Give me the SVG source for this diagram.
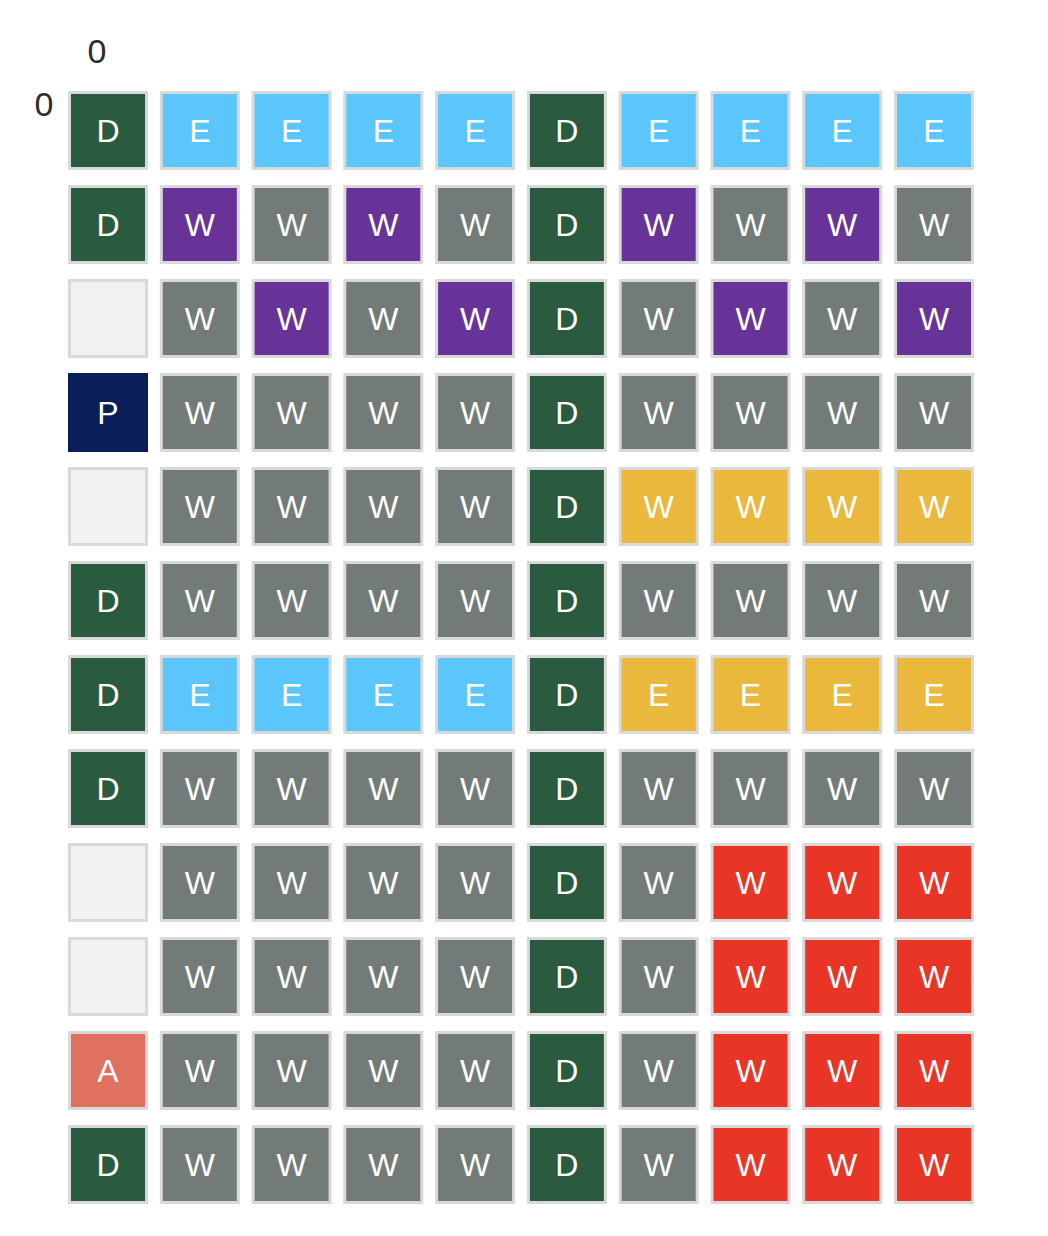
<svg xmlns="http://www.w3.org/2000/svg" width="1048" height="1236" viewBox="0 0 1048 1236">
<style>
rect.c{stroke:#d9d9d9;stroke-width:3;width:77px;height:76px}
text{font-family:"Liberation Sans",Arial,sans-serif;text-anchor:middle}
text.t{font-size:32px;fill:#ffffff}
text.l{font-size:34px;fill:#2b2b33}
.D{fill:#2a5b41}.E{fill:#5bc6fb}.P{fill:#673399}.G{fill:#737b79}.N{fill:#0a1e5a}.X{fill:#f0f1f0}.Y{fill:#eab83d}.R{fill:#e83526}.A{fill:#e07160}
</style>
<g id="labels">
<text class="l" x="97" y="63">0</text>
<text class="l" x="44" y="116">0</text>
</g>
<g id="connectors"></g>
<g id="grid">
<g id="r0" transform="translate(0,91)">
<g id="n0-0" transform="translate(68,0)"><rect class="c D" x="1.5" y="1.5" width="77" height="76"/><text class="t" x="40" y="51">D</text></g>
<g id="n0-1" transform="translate(159.8,0)"><rect class="c E" x="1.5" y="1.5" width="77" height="76"/><text class="t" x="40" y="51">E</text></g>
<g id="n0-2" transform="translate(251.6,0)"><rect class="c E" x="1.5" y="1.5" width="77" height="76"/><text class="t" x="40" y="51">E</text></g>
<g id="n0-3" transform="translate(343.3,0)"><rect class="c E" x="1.5" y="1.5" width="77" height="76"/><text class="t" x="40" y="51">E</text></g>
<g id="n0-4" transform="translate(435.1,0)"><rect class="c E" x="1.5" y="1.5" width="77" height="76"/><text class="t" x="40" y="51">E</text></g>
<g id="n0-5" transform="translate(526.9,0)"><rect class="c D" x="1.5" y="1.5" width="77" height="76"/><text class="t" x="40" y="51">D</text></g>
<g id="n0-6" transform="translate(618.7,0)"><rect class="c E" x="1.5" y="1.5" width="77" height="76"/><text class="t" x="40" y="51">E</text></g>
<g id="n0-7" transform="translate(710.5,0)"><rect class="c E" x="1.5" y="1.5" width="77" height="76"/><text class="t" x="40" y="51">E</text></g>
<g id="n0-8" transform="translate(802.2,0)"><rect class="c E" x="1.5" y="1.5" width="77" height="76"/><text class="t" x="40" y="51">E</text></g>
<g id="n0-9" transform="translate(894,0)"><rect class="c E" x="1.5" y="1.5" width="77" height="76"/><text class="t" x="40" y="51">E</text></g>
</g>
<g id="r1" transform="translate(0,185)">
<g id="n1-0" transform="translate(68,0)"><rect class="c D" x="1.5" y="1.5" width="77" height="76"/><text class="t" x="40" y="51">D</text></g>
<g id="n1-1" transform="translate(159.8,0)"><rect class="c P" x="1.5" y="1.5" width="77" height="76"/><text class="t" x="40" y="51">W</text></g>
<g id="n1-2" transform="translate(251.6,0)"><rect class="c G" x="1.5" y="1.5" width="77" height="76"/><text class="t" x="40" y="51">W</text></g>
<g id="n1-3" transform="translate(343.3,0)"><rect class="c P" x="1.5" y="1.5" width="77" height="76"/><text class="t" x="40" y="51">W</text></g>
<g id="n1-4" transform="translate(435.1,0)"><rect class="c G" x="1.5" y="1.5" width="77" height="76"/><text class="t" x="40" y="51">W</text></g>
<g id="n1-5" transform="translate(526.9,0)"><rect class="c D" x="1.5" y="1.5" width="77" height="76"/><text class="t" x="40" y="51">D</text></g>
<g id="n1-6" transform="translate(618.7,0)"><rect class="c P" x="1.5" y="1.5" width="77" height="76"/><text class="t" x="40" y="51">W</text></g>
<g id="n1-7" transform="translate(710.5,0)"><rect class="c G" x="1.5" y="1.5" width="77" height="76"/><text class="t" x="40" y="51">W</text></g>
<g id="n1-8" transform="translate(802.2,0)"><rect class="c P" x="1.5" y="1.5" width="77" height="76"/><text class="t" x="40" y="51">W</text></g>
<g id="n1-9" transform="translate(894,0)"><rect class="c G" x="1.5" y="1.5" width="77" height="76"/><text class="t" x="40" y="51">W</text></g>
</g>
<g id="r2" transform="translate(0,279)">
<g id="n2-0" transform="translate(68,0)"><rect class="c X" x="1.5" y="1.5" width="77" height="76"/></g>
<g id="n2-1" transform="translate(159.8,0)"><rect class="c G" x="1.5" y="1.5" width="77" height="76"/><text class="t" x="40" y="51">W</text></g>
<g id="n2-2" transform="translate(251.6,0)"><rect class="c P" x="1.5" y="1.5" width="77" height="76"/><text class="t" x="40" y="51">W</text></g>
<g id="n2-3" transform="translate(343.3,0)"><rect class="c G" x="1.5" y="1.5" width="77" height="76"/><text class="t" x="40" y="51">W</text></g>
<g id="n2-4" transform="translate(435.1,0)"><rect class="c P" x="1.5" y="1.5" width="77" height="76"/><text class="t" x="40" y="51">W</text></g>
<g id="n2-5" transform="translate(526.9,0)"><rect class="c D" x="1.5" y="1.5" width="77" height="76"/><text class="t" x="40" y="51">D</text></g>
<g id="n2-6" transform="translate(618.7,0)"><rect class="c G" x="1.5" y="1.5" width="77" height="76"/><text class="t" x="40" y="51">W</text></g>
<g id="n2-7" transform="translate(710.5,0)"><rect class="c P" x="1.5" y="1.5" width="77" height="76"/><text class="t" x="40" y="51">W</text></g>
<g id="n2-8" transform="translate(802.2,0)"><rect class="c G" x="1.5" y="1.5" width="77" height="76"/><text class="t" x="40" y="51">W</text></g>
<g id="n2-9" transform="translate(894,0)"><rect class="c P" x="1.5" y="1.5" width="77" height="76"/><text class="t" x="40" y="51">W</text></g>
</g>
<g id="r3" transform="translate(0,373)">
<g id="n3-0" transform="translate(68,0)"><rect class="c N" x="1.5" y="1.5" width="77" height="76" style="stroke:#0a1e5a"/><text class="t" x="40" y="51">P</text></g>
<g id="n3-1" transform="translate(159.8,0)"><rect class="c G" x="1.5" y="1.5" width="77" height="76"/><text class="t" x="40" y="51">W</text></g>
<g id="n3-2" transform="translate(251.6,0)"><rect class="c G" x="1.5" y="1.5" width="77" height="76"/><text class="t" x="40" y="51">W</text></g>
<g id="n3-3" transform="translate(343.3,0)"><rect class="c G" x="1.5" y="1.5" width="77" height="76"/><text class="t" x="40" y="51">W</text></g>
<g id="n3-4" transform="translate(435.1,0)"><rect class="c G" x="1.5" y="1.5" width="77" height="76"/><text class="t" x="40" y="51">W</text></g>
<g id="n3-5" transform="translate(526.9,0)"><rect class="c D" x="1.5" y="1.5" width="77" height="76"/><text class="t" x="40" y="51">D</text></g>
<g id="n3-6" transform="translate(618.7,0)"><rect class="c G" x="1.5" y="1.5" width="77" height="76"/><text class="t" x="40" y="51">W</text></g>
<g id="n3-7" transform="translate(710.5,0)"><rect class="c G" x="1.5" y="1.5" width="77" height="76"/><text class="t" x="40" y="51">W</text></g>
<g id="n3-8" transform="translate(802.2,0)"><rect class="c G" x="1.5" y="1.5" width="77" height="76"/><text class="t" x="40" y="51">W</text></g>
<g id="n3-9" transform="translate(894,0)"><rect class="c G" x="1.5" y="1.5" width="77" height="76"/><text class="t" x="40" y="51">W</text></g>
</g>
<g id="r4" transform="translate(0,467)">
<g id="n4-0" transform="translate(68,0)"><rect class="c X" x="1.5" y="1.5" width="77" height="76"/></g>
<g id="n4-1" transform="translate(159.8,0)"><rect class="c G" x="1.5" y="1.5" width="77" height="76"/><text class="t" x="40" y="51">W</text></g>
<g id="n4-2" transform="translate(251.6,0)"><rect class="c G" x="1.5" y="1.5" width="77" height="76"/><text class="t" x="40" y="51">W</text></g>
<g id="n4-3" transform="translate(343.3,0)"><rect class="c G" x="1.5" y="1.5" width="77" height="76"/><text class="t" x="40" y="51">W</text></g>
<g id="n4-4" transform="translate(435.1,0)"><rect class="c G" x="1.5" y="1.5" width="77" height="76"/><text class="t" x="40" y="51">W</text></g>
<g id="n4-5" transform="translate(526.9,0)"><rect class="c D" x="1.5" y="1.5" width="77" height="76"/><text class="t" x="40" y="51">D</text></g>
<g id="n4-6" transform="translate(618.7,0)"><rect class="c Y" x="1.5" y="1.5" width="77" height="76"/><text class="t" x="40" y="51">W</text></g>
<g id="n4-7" transform="translate(710.5,0)"><rect class="c Y" x="1.5" y="1.5" width="77" height="76"/><text class="t" x="40" y="51">W</text></g>
<g id="n4-8" transform="translate(802.2,0)"><rect class="c Y" x="1.5" y="1.5" width="77" height="76"/><text class="t" x="40" y="51">W</text></g>
<g id="n4-9" transform="translate(894,0)"><rect class="c Y" x="1.5" y="1.5" width="77" height="76"/><text class="t" x="40" y="51">W</text></g>
</g>
<g id="r5" transform="translate(0,561)">
<g id="n5-0" transform="translate(68,0)"><rect class="c D" x="1.5" y="1.5" width="77" height="76"/><text class="t" x="40" y="51">D</text></g>
<g id="n5-1" transform="translate(159.8,0)"><rect class="c G" x="1.5" y="1.5" width="77" height="76"/><text class="t" x="40" y="51">W</text></g>
<g id="n5-2" transform="translate(251.6,0)"><rect class="c G" x="1.5" y="1.5" width="77" height="76"/><text class="t" x="40" y="51">W</text></g>
<g id="n5-3" transform="translate(343.3,0)"><rect class="c G" x="1.5" y="1.5" width="77" height="76"/><text class="t" x="40" y="51">W</text></g>
<g id="n5-4" transform="translate(435.1,0)"><rect class="c G" x="1.5" y="1.5" width="77" height="76"/><text class="t" x="40" y="51">W</text></g>
<g id="n5-5" transform="translate(526.9,0)"><rect class="c D" x="1.5" y="1.5" width="77" height="76"/><text class="t" x="40" y="51">D</text></g>
<g id="n5-6" transform="translate(618.7,0)"><rect class="c G" x="1.5" y="1.5" width="77" height="76"/><text class="t" x="40" y="51">W</text></g>
<g id="n5-7" transform="translate(710.5,0)"><rect class="c G" x="1.5" y="1.5" width="77" height="76"/><text class="t" x="40" y="51">W</text></g>
<g id="n5-8" transform="translate(802.2,0)"><rect class="c G" x="1.5" y="1.5" width="77" height="76"/><text class="t" x="40" y="51">W</text></g>
<g id="n5-9" transform="translate(894,0)"><rect class="c G" x="1.5" y="1.5" width="77" height="76"/><text class="t" x="40" y="51">W</text></g>
</g>
<g id="r6" transform="translate(0,655)">
<g id="n6-0" transform="translate(68,0)"><rect class="c D" x="1.5" y="1.5" width="77" height="76"/><text class="t" x="40" y="51">D</text></g>
<g id="n6-1" transform="translate(159.8,0)"><rect class="c E" x="1.5" y="1.5" width="77" height="76"/><text class="t" x="40" y="51">E</text></g>
<g id="n6-2" transform="translate(251.6,0)"><rect class="c E" x="1.5" y="1.5" width="77" height="76"/><text class="t" x="40" y="51">E</text></g>
<g id="n6-3" transform="translate(343.3,0)"><rect class="c E" x="1.5" y="1.5" width="77" height="76"/><text class="t" x="40" y="51">E</text></g>
<g id="n6-4" transform="translate(435.1,0)"><rect class="c E" x="1.5" y="1.5" width="77" height="76"/><text class="t" x="40" y="51">E</text></g>
<g id="n6-5" transform="translate(526.9,0)"><rect class="c D" x="1.5" y="1.5" width="77" height="76"/><text class="t" x="40" y="51">D</text></g>
<g id="n6-6" transform="translate(618.7,0)"><rect class="c Y" x="1.5" y="1.5" width="77" height="76"/><text class="t" x="40" y="51">E</text></g>
<g id="n6-7" transform="translate(710.5,0)"><rect class="c Y" x="1.5" y="1.5" width="77" height="76"/><text class="t" x="40" y="51">E</text></g>
<g id="n6-8" transform="translate(802.2,0)"><rect class="c Y" x="1.5" y="1.5" width="77" height="76"/><text class="t" x="40" y="51">E</text></g>
<g id="n6-9" transform="translate(894,0)"><rect class="c Y" x="1.5" y="1.5" width="77" height="76"/><text class="t" x="40" y="51">E</text></g>
</g>
<g id="r7" transform="translate(0,749)">
<g id="n7-0" transform="translate(68,0)"><rect class="c D" x="1.5" y="1.5" width="77" height="76"/><text class="t" x="40" y="51">D</text></g>
<g id="n7-1" transform="translate(159.8,0)"><rect class="c G" x="1.5" y="1.5" width="77" height="76"/><text class="t" x="40" y="51">W</text></g>
<g id="n7-2" transform="translate(251.6,0)"><rect class="c G" x="1.5" y="1.5" width="77" height="76"/><text class="t" x="40" y="51">W</text></g>
<g id="n7-3" transform="translate(343.3,0)"><rect class="c G" x="1.5" y="1.5" width="77" height="76"/><text class="t" x="40" y="51">W</text></g>
<g id="n7-4" transform="translate(435.1,0)"><rect class="c G" x="1.5" y="1.5" width="77" height="76"/><text class="t" x="40" y="51">W</text></g>
<g id="n7-5" transform="translate(526.9,0)"><rect class="c D" x="1.5" y="1.5" width="77" height="76"/><text class="t" x="40" y="51">D</text></g>
<g id="n7-6" transform="translate(618.7,0)"><rect class="c G" x="1.5" y="1.5" width="77" height="76"/><text class="t" x="40" y="51">W</text></g>
<g id="n7-7" transform="translate(710.5,0)"><rect class="c G" x="1.5" y="1.5" width="77" height="76"/><text class="t" x="40" y="51">W</text></g>
<g id="n7-8" transform="translate(802.2,0)"><rect class="c G" x="1.5" y="1.5" width="77" height="76"/><text class="t" x="40" y="51">W</text></g>
<g id="n7-9" transform="translate(894,0)"><rect class="c G" x="1.5" y="1.5" width="77" height="76"/><text class="t" x="40" y="51">W</text></g>
</g>
<g id="r8" transform="translate(0,843)">
<g id="n8-0" transform="translate(68,0)"><rect class="c X" x="1.5" y="1.5" width="77" height="76"/></g>
<g id="n8-1" transform="translate(159.8,0)"><rect class="c G" x="1.5" y="1.5" width="77" height="76"/><text class="t" x="40" y="51">W</text></g>
<g id="n8-2" transform="translate(251.6,0)"><rect class="c G" x="1.5" y="1.5" width="77" height="76"/><text class="t" x="40" y="51">W</text></g>
<g id="n8-3" transform="translate(343.3,0)"><rect class="c G" x="1.5" y="1.5" width="77" height="76"/><text class="t" x="40" y="51">W</text></g>
<g id="n8-4" transform="translate(435.1,0)"><rect class="c G" x="1.5" y="1.5" width="77" height="76"/><text class="t" x="40" y="51">W</text></g>
<g id="n8-5" transform="translate(526.9,0)"><rect class="c D" x="1.5" y="1.5" width="77" height="76"/><text class="t" x="40" y="51">D</text></g>
<g id="n8-6" transform="translate(618.7,0)"><rect class="c G" x="1.5" y="1.5" width="77" height="76"/><text class="t" x="40" y="51">W</text></g>
<g id="n8-7" transform="translate(710.5,0)"><rect class="c R" x="1.5" y="1.5" width="77" height="76"/><text class="t" x="40" y="51">W</text></g>
<g id="n8-8" transform="translate(802.2,0)"><rect class="c R" x="1.5" y="1.5" width="77" height="76"/><text class="t" x="40" y="51">W</text></g>
<g id="n8-9" transform="translate(894,0)"><rect class="c R" x="1.5" y="1.5" width="77" height="76"/><text class="t" x="40" y="51">W</text></g>
</g>
<g id="r9" transform="translate(0,937)">
<g id="n9-0" transform="translate(68,0)"><rect class="c X" x="1.5" y="1.5" width="77" height="76"/></g>
<g id="n9-1" transform="translate(159.8,0)"><rect class="c G" x="1.5" y="1.5" width="77" height="76"/><text class="t" x="40" y="51">W</text></g>
<g id="n9-2" transform="translate(251.6,0)"><rect class="c G" x="1.5" y="1.5" width="77" height="76"/><text class="t" x="40" y="51">W</text></g>
<g id="n9-3" transform="translate(343.3,0)"><rect class="c G" x="1.5" y="1.5" width="77" height="76"/><text class="t" x="40" y="51">W</text></g>
<g id="n9-4" transform="translate(435.1,0)"><rect class="c G" x="1.5" y="1.5" width="77" height="76"/><text class="t" x="40" y="51">W</text></g>
<g id="n9-5" transform="translate(526.9,0)"><rect class="c D" x="1.5" y="1.5" width="77" height="76"/><text class="t" x="40" y="51">D</text></g>
<g id="n9-6" transform="translate(618.7,0)"><rect class="c G" x="1.5" y="1.5" width="77" height="76"/><text class="t" x="40" y="51">W</text></g>
<g id="n9-7" transform="translate(710.5,0)"><rect class="c R" x="1.5" y="1.5" width="77" height="76"/><text class="t" x="40" y="51">W</text></g>
<g id="n9-8" transform="translate(802.2,0)"><rect class="c R" x="1.5" y="1.5" width="77" height="76"/><text class="t" x="40" y="51">W</text></g>
<g id="n9-9" transform="translate(894,0)"><rect class="c R" x="1.5" y="1.5" width="77" height="76"/><text class="t" x="40" y="51">W</text></g>
</g>
<g id="r10" transform="translate(0,1031)">
<g id="n10-0" transform="translate(68,0)"><rect class="c A" x="1.5" y="1.5" width="77" height="76"/><text class="t" x="40" y="51">A</text></g>
<g id="n10-1" transform="translate(159.8,0)"><rect class="c G" x="1.5" y="1.5" width="77" height="76"/><text class="t" x="40" y="51">W</text></g>
<g id="n10-2" transform="translate(251.6,0)"><rect class="c G" x="1.5" y="1.5" width="77" height="76"/><text class="t" x="40" y="51">W</text></g>
<g id="n10-3" transform="translate(343.3,0)"><rect class="c G" x="1.5" y="1.5" width="77" height="76"/><text class="t" x="40" y="51">W</text></g>
<g id="n10-4" transform="translate(435.1,0)"><rect class="c G" x="1.5" y="1.5" width="77" height="76"/><text class="t" x="40" y="51">W</text></g>
<g id="n10-5" transform="translate(526.9,0)"><rect class="c D" x="1.5" y="1.5" width="77" height="76"/><text class="t" x="40" y="51">D</text></g>
<g id="n10-6" transform="translate(618.7,0)"><rect class="c G" x="1.5" y="1.5" width="77" height="76"/><text class="t" x="40" y="51">W</text></g>
<g id="n10-7" transform="translate(710.5,0)"><rect class="c R" x="1.5" y="1.5" width="77" height="76"/><text class="t" x="40" y="51">W</text></g>
<g id="n10-8" transform="translate(802.2,0)"><rect class="c R" x="1.5" y="1.5" width="77" height="76"/><text class="t" x="40" y="51">W</text></g>
<g id="n10-9" transform="translate(894,0)"><rect class="c R" x="1.5" y="1.5" width="77" height="76"/><text class="t" x="40" y="51">W</text></g>
</g>
<g id="r11" transform="translate(0,1125)">
<g id="n11-0" transform="translate(68,0)"><rect class="c D" x="1.5" y="1.5" width="77" height="76"/><text class="t" x="40" y="51">D</text></g>
<g id="n11-1" transform="translate(159.8,0)"><rect class="c G" x="1.5" y="1.5" width="77" height="76"/><text class="t" x="40" y="51">W</text></g>
<g id="n11-2" transform="translate(251.6,0)"><rect class="c G" x="1.5" y="1.5" width="77" height="76"/><text class="t" x="40" y="51">W</text></g>
<g id="n11-3" transform="translate(343.3,0)"><rect class="c G" x="1.5" y="1.5" width="77" height="76"/><text class="t" x="40" y="51">W</text></g>
<g id="n11-4" transform="translate(435.1,0)"><rect class="c G" x="1.5" y="1.5" width="77" height="76"/><text class="t" x="40" y="51">W</text></g>
<g id="n11-5" transform="translate(526.9,0)"><rect class="c D" x="1.5" y="1.5" width="77" height="76"/><text class="t" x="40" y="51">D</text></g>
<g id="n11-6" transform="translate(618.7,0)"><rect class="c G" x="1.5" y="1.5" width="77" height="76"/><text class="t" x="40" y="51">W</text></g>
<g id="n11-7" transform="translate(710.5,0)"><rect class="c R" x="1.5" y="1.5" width="77" height="76"/><text class="t" x="40" y="51">W</text></g>
<g id="n11-8" transform="translate(802.2,0)"><rect class="c R" x="1.5" y="1.5" width="77" height="76"/><text class="t" x="40" y="51">W</text></g>
<g id="n11-9" transform="translate(894,0)"><rect class="c R" x="1.5" y="1.5" width="77" height="76"/><text class="t" x="40" y="51">W</text></g>
</g>
</g>
</svg>
